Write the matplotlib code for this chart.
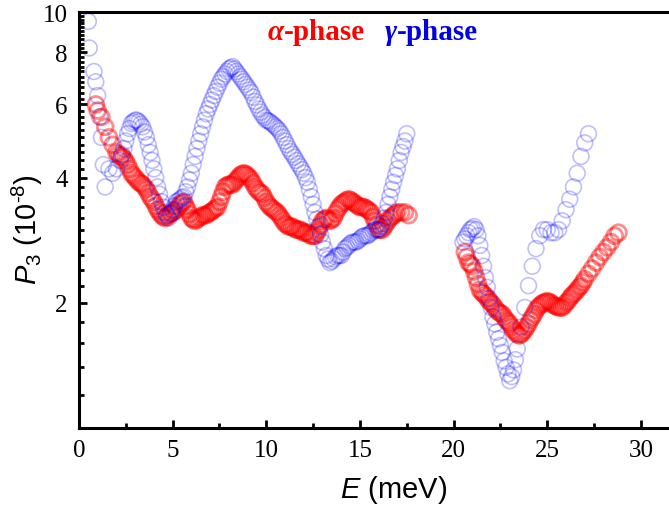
import matplotlib.pyplot as plt
from matplotlib.ticker import FixedLocator, FixedFormatter, NullFormatter, MultipleLocator
import numpy as np

plt.rcParams['mathtext.fontset'] = 'custom'
plt.rcParams['mathtext.rm'] = 'Liberation Sans'
plt.rcParams['mathtext.it'] = 'Liberation Sans:italic'

# alpha-phase, low-energy window
alpha_E1 = [0.9, 1.0, 1.2, 1.4, 1.6, 1.8,
            2.0, 2.1, 2.2, 2.3, 2.4, 2.5, 2.6, 2.7, 2.8, 2.9, 3.0, 3.1, 3.2, 3.3, 3.4, 3.5,
            3.6, 3.7, 3.8, 3.9, 4.0, 4.1, 4.2, 4.3, 4.4, 4.5, 4.6, 4.7, 4.8, 4.9, 5.0, 5.1,
            5.2, 5.3, 5.4, 5.5, 5.6, 5.7, 5.8, 5.9, 6.0, 6.1, 6.2, 6.3, 6.4, 6.5, 6.6, 6.7,
            6.8, 6.9, 7.0, 7.1, 7.2, 7.3, 7.4, 7.5, 7.6, 7.7, 7.8, 7.9, 8.0, 8.1, 8.2, 8.3,
            8.4, 8.5, 8.6, 8.7, 8.8, 8.9, 9.0, 9.1, 9.2, 9.3, 9.4, 9.5, 9.6, 9.7, 9.8, 9.9,
            10.0, 10.1, 10.2, 10.3, 10.4, 10.5, 10.6, 10.7, 10.8, 10.9, 11.0, 11.1, 11.2, 11.3,
            11.4, 11.5, 11.6, 11.7, 11.8, 11.9, 12.0, 12.1, 12.2, 12.3, 12.4, 12.5, 12.6, 12.7,
            12.8, 12.9, 13.0, 13.1, 13.2, 13.3, 13.4, 13.5, 13.6, 13.7, 13.8, 13.9, 14.0, 14.1,
            14.2, 14.3, 14.4, 14.5, 14.6, 14.7, 14.8, 14.9, 15.0, 15.1, 15.2, 15.3, 15.4, 15.5,
            15.6, 15.7, 15.8, 15.9, 16.0, 16.1, 16.2, 16.3, 16.4, 16.5, 16.6, 16.7, 16.8, 16.9,
            17.0, 17.2, 17.4, 17.6]
alpha_P1 = [6.0, 5.8, 5.6, 5.3, 5.0, 4.8,
            4.6, 4.55, 4.5, 4.48, 4.45, 4.38, 4.3, 4.2, 4.1, 4.05, 4.0, 3.95, 3.9, 3.88, 3.85, 3.8,
            3.75, 3.68, 3.6, 3.55, 3.5, 3.42, 3.35, 3.3, 3.25, 3.22, 3.2, 3.22, 3.25, 3.28, 3.3, 3.32,
            3.35, 3.4, 3.45, 3.48, 3.5, 3.42, 3.35, 3.27, 3.2, 3.17, 3.15, 3.17, 3.2, 3.22, 3.25, 3.25,
            3.25, 3.28, 3.3, 3.32, 3.35, 3.38, 3.4, 3.5, 3.6, 3.7, 3.8, 3.83, 3.85, 3.85, 3.85, 3.9,
            3.95, 4.0, 4.05, 4.08, 4.1, 4.08, 4.05, 4.0, 3.95, 3.88, 3.8, 3.75, 3.7, 3.68, 3.65, 3.58,
            3.5, 3.45, 3.4, 3.38, 3.35, 3.32, 3.3, 3.25, 3.2, 3.15, 3.1, 3.08, 3.05, 3.05,
            3.05, 3.02, 3.0, 3.0, 3.0, 2.98, 2.95, 2.95, 2.95, 2.92, 2.9, 2.9, 2.9, 2.95,
            3.0, 3.08, 3.15, 3.18, 3.2, 3.18, 3.15, 3.17, 3.2, 3.28, 3.35, 3.4, 3.45, 3.48,
            3.5, 3.53, 3.55, 3.53, 3.5, 3.48, 3.45, 3.42, 3.4, 3.4, 3.4, 3.38, 3.35, 3.33,
            3.3, 3.22, 3.15, 3.08, 3.0, 3.0, 3.0, 3.05, 3.1, 3.15, 3.2, 3.22, 3.25, 3.28,
            3.3, 3.3, 3.3, 3.25]

# alpha-phase, high-energy window
alpha_E2 = [20.6, 20.7, 20.8, 20.9, 21.0, 21.1, 21.2, 21.3, 21.4, 21.5, 21.6, 21.7, 21.8, 21.9,
            22.0, 22.1, 22.2, 22.3, 22.4, 22.5, 22.6, 22.7, 22.8, 22.9, 23.0, 23.1, 23.2, 23.3,
            23.4, 23.5, 23.6, 23.7, 23.8, 23.9, 24.0, 24.1, 24.2, 24.3, 24.4, 24.5, 24.6, 24.7,
            24.8, 24.9, 25.0, 25.1, 25.2, 25.3, 25.4, 25.5, 25.6, 25.7, 25.8, 25.9, 26.0, 26.1,
            26.2, 26.3, 26.4, 26.5, 26.6, 26.7, 26.8, 26.9, 27.0, 27.2, 27.4, 27.6, 27.8, 28.0,
            28.2, 28.4, 28.6, 28.8]
alpha_P2 = [2.65, 2.58, 2.5, 2.48, 2.45, 2.38, 2.3, 2.22, 2.15, 2.12, 2.1, 2.08, 2.05, 2.02,
            2.0, 1.98, 1.95, 1.92, 1.9, 1.89, 1.88, 1.85, 1.82, 1.8, 1.78, 1.75, 1.72, 1.7,
            1.68, 1.67, 1.68, 1.7, 1.72, 1.75, 1.78, 1.82, 1.85, 1.88, 1.92, 1.95, 1.97, 1.99,
            2.0, 2.01, 2.02, 2.01, 2.0, 1.98, 1.97, 1.96, 1.95, 1.95, 1.95, 1.97, 2.0, 2.02,
            2.05, 2.08, 2.1, 2.12, 2.15, 2.18, 2.2, 2.24, 2.28, 2.35, 2.42, 2.5, 2.58, 2.65,
            2.72, 2.8, 2.9, 2.95]

# gamma-phase, low-energy window
gamma_E1 = [0.5, 0.55, 0.8, 0.9, 1.0, 1.1, 1.2, 1.3, 1.4, 1.6, 1.8, 2.0,
            2.2, 2.3, 2.4, 2.5, 2.6, 2.7, 2.8, 2.9, 3.0, 3.1, 3.2, 3.3, 3.4, 3.5, 3.6, 3.7,
            3.8, 3.9, 4.0, 4.1, 4.2, 4.3, 4.4, 4.5, 4.6, 4.7, 4.8, 4.9, 5.0, 5.1, 5.2, 5.3,
            5.4, 5.5, 5.6, 5.7, 5.8, 5.9, 6.0, 6.1, 6.2, 6.3, 6.4, 6.5, 6.6, 6.7, 6.8, 6.9,
            7.0, 7.1, 7.2, 7.3, 7.4, 7.5, 7.6, 7.7, 7.8, 7.9, 8.0, 8.1, 8.2, 8.3, 8.4, 8.5,
            8.6, 8.7, 8.8, 8.9, 9.0, 9.1, 9.2, 9.3, 9.4, 9.5, 9.6, 9.7, 9.8, 9.9, 10.0, 10.1,
            10.2, 10.3, 10.4, 10.5, 10.6, 10.7, 10.8, 10.9, 11.0, 11.1, 11.2, 11.3, 11.4, 11.5,
            11.6, 11.7, 11.8, 11.9, 12.0, 12.1, 12.2, 12.3, 12.4, 12.5, 12.6, 12.7, 12.8, 12.9,
            13.0, 13.1, 13.2, 13.3, 13.4, 13.5, 13.6, 13.7, 13.8, 13.9, 14.0, 14.1, 14.2, 14.3,
            14.4, 14.5, 14.6, 14.7, 14.8, 14.9, 15.0, 15.1, 15.2, 15.3, 15.4, 15.5, 15.6, 15.7,
            15.8, 15.9, 16.0, 16.1, 16.2, 16.3, 16.4, 16.5, 16.6, 16.7, 16.8, 16.9, 17.0, 17.1,
            17.2, 17.3, 17.4, 17.5]
gamma_P1 = [9.5, 8.2, 7.2, 6.8, 6.3, 5.6, 5.0, 4.3, 3.8, 4.2, 4.1, 4.2,
            4.4, 4.55, 4.7, 4.9, 5.1, 5.25, 5.4, 5.45, 5.5, 5.5, 5.45, 5.38, 5.3, 5.15, 5.0, 4.8,
            4.6, 4.4, 4.2, 4.0, 3.8, 3.65, 3.5, 3.4, 3.3, 3.25, 3.2, 3.28, 3.35, 3.42, 3.5, 3.52,
            3.55, 3.58, 3.6, 3.7, 3.8, 3.95, 4.1, 4.3, 4.5, 4.7, 4.9, 5.1, 5.3, 5.5, 5.7, 5.85,
            6.0, 6.15, 6.3, 6.45, 6.6, 6.75, 6.9, 7.0, 7.1, 7.2, 7.3, 7.35, 7.4, 7.3, 7.2, 7.1,
            7.0, 6.9, 6.8, 6.7, 6.6, 6.5, 6.4, 6.25, 6.1, 5.98, 5.85, 5.75, 5.65, 5.58, 5.5, 5.48,
            5.45, 5.4, 5.35, 5.3, 5.25, 5.18, 5.1, 5.0, 4.9, 4.8, 4.7, 4.62, 4.55, 4.48,
            4.4, 4.32, 4.25, 4.18, 4.1, 4.0, 3.9, 3.75, 3.6, 3.45, 3.3, 3.18, 3.05, 2.92,
            2.8, 2.7, 2.6, 2.55, 2.5, 2.52, 2.55, 2.58, 2.6, 2.6, 2.6, 2.65, 2.7, 2.72,
            2.75, 2.78, 2.8, 2.8, 2.8, 2.82, 2.85, 2.88, 2.9, 2.9, 2.9, 2.92, 2.95, 2.98,
            3.0, 3.0, 3.0, 3.05, 3.1, 3.2, 3.3, 3.45, 3.6, 3.75, 3.9, 4.05, 4.2, 4.4,
            4.6, 4.75, 4.9, 5.1]

# gamma-phase, high-energy window
gamma_E2 = [20.5, 20.6, 20.7, 20.8, 20.9, 21.0, 21.1, 21.2, 21.3, 21.4, 21.5, 21.6, 21.7, 21.8,
            21.9, 22.0, 22.1, 22.2, 22.3, 22.4, 22.5, 22.6, 22.7, 22.8, 22.9, 23.0, 23.1, 23.2,
            23.3, 23.4, 23.6, 23.8, 24.0, 24.2, 24.4, 24.6, 24.8, 25.0, 25.2, 25.4, 25.6, 25.8,
            26.0, 26.2, 26.4, 26.6, 26.8, 27.0, 27.2]
gamma_P2 = [2.8, 2.85, 2.9, 2.95, 3.0, 3.02, 3.05, 3.0, 2.9, 2.75, 2.6, 2.45, 2.3, 2.18,
            2.05, 1.95, 1.85, 1.78, 1.7, 1.64, 1.58, 1.52, 1.45, 1.4, 1.35, 1.3, 1.33, 1.38,
            1.46, 1.55, 1.75, 1.95, 2.2, 2.45, 2.7, 2.9, 3.0, 3.0, 2.95, 2.95, 3.0, 3.15,
            3.35, 3.55, 3.8, 4.1, 4.5, 4.85, 5.1]

y_major = [2, 4, 6, 8, 10]
y_minor = [v for v in np.arange(1.2, 10, 0.2).round(1) if v not in y_major]

fig = plt.figure(figsize=(6.69, 5.06), dpi=100)
ax = fig.add_axes([0.118, 0.152, 0.882, 0.822])

for E, P in [(alpha_E1, alpha_P1), (alpha_E2, alpha_P2)]:
    ax.scatter(E, P, s=130, facecolors='none', edgecolors='#ff0000', linewidths=2.0, alpha=0.45)
for E, P in [(gamma_E1, gamma_P1), (gamma_E2, gamma_P2)]:
    ax.scatter(E, P, s=130, facecolors='none', edgecolors='#0000ff', linewidths=1.2, alpha=0.25)

ax.set_yscale('log')
ax.set_xlim(0, 31.5)
ax.set_ylim(1, 10)
ax.yaxis.set_major_locator(FixedLocator(y_major))
ax.yaxis.set_major_formatter(FixedFormatter([str(v) for v in y_major]))
ax.yaxis.set_minor_locator(FixedLocator(y_minor))
ax.yaxis.set_minor_formatter(NullFormatter())
ax.xaxis.set_major_locator(MultipleLocator(5))
ax.xaxis.set_minor_locator(MultipleLocator(2.5))

ax.tick_params(which='both', direction='in', width=2, top=False, right=False)
ax.tick_params(which='major', length=6, labelsize=18, pad=8)
ax.tick_params(which='minor', length=3.5)
for lab in ax.get_xticklabels() + ax.get_yticklabels():
    lab.set_family('Liberation Serif')

for side in ['left', 'bottom', 'top']:
    ax.spines[side].set_linewidth(2.2)
ax.spines['right'].set_visible(False)

ax.set_xlabel('$E$ (meV)', fontsize=21, family='Liberation Sans')
ax.xaxis.set_label_coords(0.534, -0.108)
ax.set_ylabel(r'$P_\mathrm{3}$ (10$^{\text{-}8}$)', fontsize=21, family='Liberation Sans')
ax.yaxis.set_label_coords(-0.058, 0.48)

t1 = ax.text(0.32, 0.935, 'α', transform=ax.transAxes, color='#ff0000', fontsize=21,
             family='Liberation Serif', weight='bold', style='italic', va='baseline')
ax.annotate('-phase', xy=(1, 0), xycoords=t1, color='#ff0000', fontsize=21,
            family='Liberation Serif', weight='bold', va='bottom')
t3 = ax.text(0.519, 0.935, 'γ', transform=ax.transAxes, color='#0000e0', fontsize=21,
             family='Liberation Serif', weight='bold', style='italic', va='baseline')
ax.annotate('-phase', xy=(1, 0), xycoords=t3, color='#0000e0', fontsize=21,
            family='Liberation Serif', weight='bold', va='bottom')

fig.savefig('out.png', dpi=100)
